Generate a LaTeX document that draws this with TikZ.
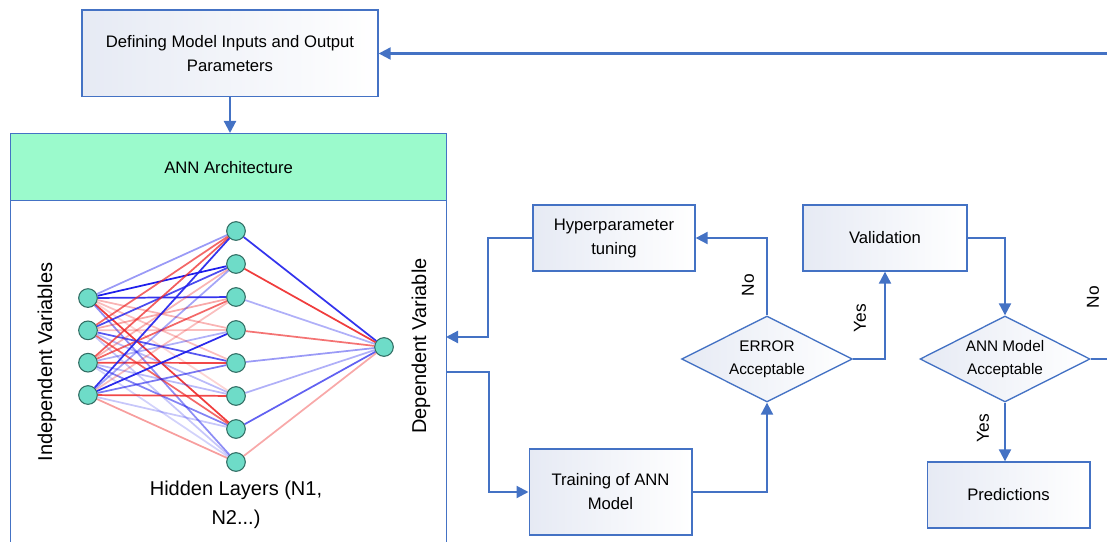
\documentclass[tikz,border=0pt]{standalone}
\usepackage{fontspec}
\setmainfont{Liberation Sans}
\usetikzlibrary{arrows.meta,shapes.geometric}
\definecolor{lineblue}{RGB}{68,114,196}
\definecolor{boxtint}{RGB}{230,234,244}
\definecolor{headgreen}{RGB}{155,250,204}
\definecolor{neuron}{RGB}{110,220,200}
\definecolor{neurondraw}{RGB}{50,110,100}
\definecolor{nblue}{RGB}{30,30,235}
\definecolor{nred}{RGB}{238,40,40}

\begin{document}
\begin{tikzpicture}[x=0.75pt,y=-0.75pt,
  box/.style={draw=lineblue,line width=1pt,left color=boxtint,right color=white,align=center,font=\fontsize{12.5}{18}\selectfont,inner sep=2pt},
  decide/.style={diamond,draw=lineblue,line width=1pt,left color=boxtint,right color=white,align=center,font=\fontsize{11.5}{17}\selectfont,inner sep=0pt,aspect=2},
  flow/.style={draw=lineblue,line width=1.6pt,-{Triangle[length=9pt,width=9pt]}},
  answer/.style={rotate=90,font=\fontsize{13}{15}\selectfont},
  neuron/.style={circle,fill=neuron,draw=neurondraw,line width=0.8pt,minimum size=14pt,inner sep=0pt},
  wire/.style={line width=1.3pt},
  biglabel/.style={font=\fontsize{15}{22}\selectfont,align=center}]
\useasboundingbox (0,0) rectangle (1107,542);

\node[box,minimum width=222pt,minimum height=65pt] (define) at (230,53.5) {Defining Model Inputs and Output\\Parameters};
\node[draw=lineblue,line width=1pt,anchor=north west,minimum width=327pt,minimum height=320pt] (ann) at (10,133) {};
\node[draw=lineblue,line width=1pt,fill=headgreen,anchor=north west,minimum width=327pt,minimum height=50.25pt,font=\fontsize{12.5}{15}\selectfont] (head) at (10,133) {ANN Architecture};

\node[box,minimum width=121.5pt,minimum height=49.5pt] (hyper) at (614,238) {Hyperparameter\\tuning};
\node[box,minimum width=123pt,minimum height=49.5pt] (valid) at (885,238) {Validation};
\node[box,minimum width=122pt,minimum height=64.5pt] (train) at (610.5,492) {Training of ANN\\Model};
\node[box,minimum width=122pt,minimum height=49.5pt] (pred) at (1008.5,495) {Predictions};
\node[decide,minimum width=128pt,minimum height=64.5pt] (errok) at (767,359) {ERROR\\Acceptable};
\node[decide,minimum width=127.5pt,minimum height=64.5pt] (annok) at (1005,359) {ANN Model\\Acceptable};

\coordinate (annin) at (446,337);\coordinate (annout) at (446,372);\coordinate (corner) at (1110,359);

\draw[flow] (define.south) -- (define.south |- head.north);
\draw[flow] (hyper.west) -- ++(-44,0) |- (annin);
\draw[flow] (annout) -- ++(43,0) |- (train.west);
\draw[flow] (train.east) -| (errok.south);
\draw[flow] (errok.north) |- (hyper.east);
\draw[flow] (errok.east) -| (valid.south);
\draw[flow] (valid.east) -| (annok.north);
\draw[flow] (annok.south) -- (annok.south |- pred.north);
\draw[flow] (annok.east) -- (corner) |- (define.east);

\node[answer] (errno) at (748,285) {No};
\node[answer] (erryes) at (860,318) {Yes};
\node[answer] (annyes) at (983,428) {Yes};
\node[answer] (annno) at (1093,297) {No};

\foreach \i in {1,...,4} \node[neuron] (in\i) at (88,{265.7+32.33*\i}) {};
\foreach \j in {1,...,8} \node[neuron] (hid\j) at (236,{198+33*\j}) {};
\node[neuron] (out) at (384,347) {};

\foreach \a/\b/\c/\o in {1/1/nblue/.45,1/2/nblue/1,1/3/nblue/.9,1/4/nred/.35,1/5/nred/.3,1/6/nred/.2,1/7/nred/.9,1/8/nblue/.5,
  2/1/nred/.7,2/2/nblue/.8,2/3/nred/.4,2/4/nred/.3,2/5/nblue/.75,2/6/nblue/.3,2/7/nred/.7,2/8/nblue/.25,
  3/1/nred/.75,3/2/nred/.35,3/3/nred/.7,3/4/nblue/.35,3/5/nred/.85,3/6/nblue/.3,3/7/nblue/.55,3/8/nblue/.2,
  4/1/nblue/.9,4/2/nblue/.4,4/3/nred/.3,4/4/nblue/.95,4/5/nblue/.6,4/6/nred/.85,4/7/nblue/.25,4/8/nred/.45}
  \draw[wire,\c,opacity=\o] (in\a) -- (hid\b);
\foreach \b/\c/\o in {1/nblue/.9,2/nred/.9,3/nblue/.35,4/nred/.65,5/nblue/.45,6/nblue/.35,7/nblue/.7,8/nred/.4}
  \draw[wire,\c,opacity=\o] (hid\b) -- (out);

\node[biglabel,rotate=90] (indep) at (47,362) {Independent Variables};
\node[biglabel,rotate=90] (dep) at (421,346) {Dependent Variable};
\node[biglabel] (hidlab) at (236,505) {Hidden Layers (N1,\\N2...)};
\end{tikzpicture}
\end{document}
